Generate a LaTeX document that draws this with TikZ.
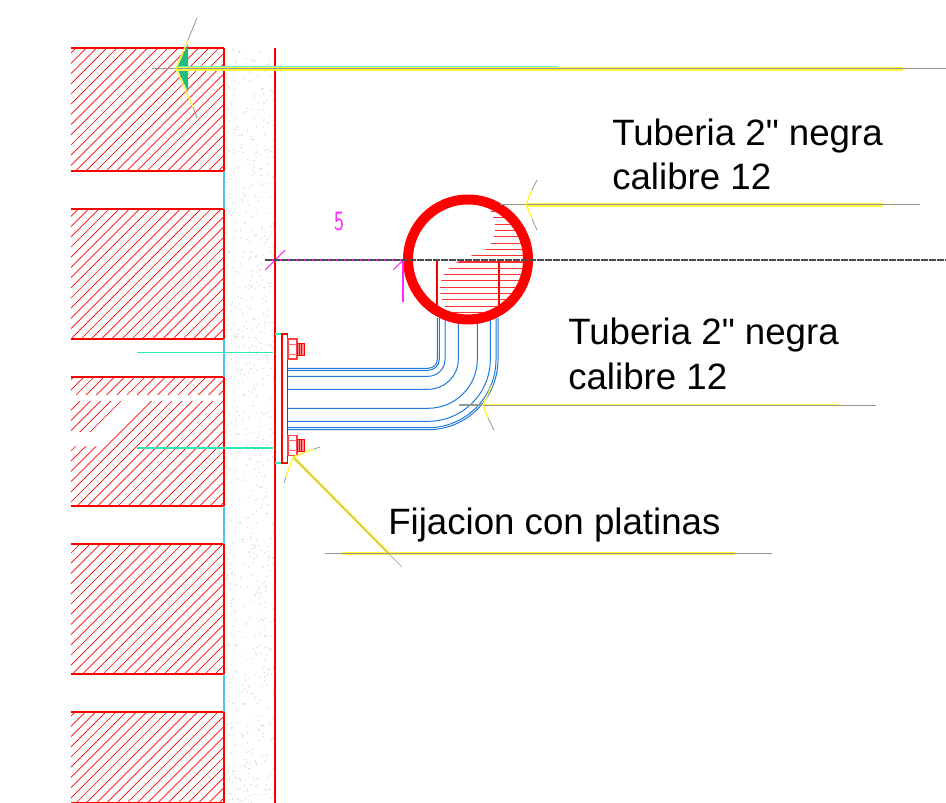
\documentclass[tikz,border=0pt]{standalone}
\usepackage{fontspec}
\newfontfamily\callfont{Liberation Sans}
\definecolor{wallred}{RGB}{255,0,0}
\definecolor{pipeblue}{RGB}{30,120,220}
\definecolor{wallcyan}{RGB}{70,200,240}
\definecolor{lineteal}{RGB}{50,230,180}
\definecolor{leadyellow}{RGB}{255,245,60}
\definecolor{leadgray}{RGB}{150,150,150}
\definecolor{dimmag}{RGB}{255,40,255}
\tikzset{
  wallline/.style={wallred,line width=0.9pt},
  hatchline/.style={wallred,line width=0.5pt},
  pipeline/.style={pipeblue,line width=0.75pt},
  tealline/.style={lineteal,line width=1pt},
  yellowline/.style={leadyellow,line width=2.2pt},
  yellowtop/.style={leadyellow,line width=3pt},
  yellowarm/.style={leadyellow,line width=1pt},
  grayline/.style={leadgray,line width=0.6pt},
  graythin/.style={leadgray,line width=0.4pt},
  magline/.style={dimmag,line width=0.8pt},
  calltext/.style={font=\callfont\fontsize{27.5}{30}\selectfont,anchor=base west,inner sep=0pt,text=black}
}
\begin{document}
\begin{tikzpicture}[x=0.75pt,y=-0.75pt]
    \useasboundingbox (0,0) rectangle (946,803);

    % concrete speckle
    \pgfmathsetseed{42}
    \foreach \i in {1,...,800} {
        \pgfmathsetmacro{\dotx}{226+rnd*48}
        \pgfmathsetmacro{\doty}{48+rnd*755}
        \fill[black!15] (\dotx,\doty) circle (0.8);
    }

    % brick courses
    \begin{scope}
        \clip (71,48) rectangle (224,171) (71,209) rectangle (224,339)
              (71,377) rectangle (224,506) (71,544) rectangle (224,674)
              (71,712) rectangle (224,803);
        \foreach \k in {0,...,95} {
            \draw[hatchline] (-740+10.2*\k,803) -- ++(800,-800);
        }
    \end{scope}
    % gaps in the hatch of the third course
    \fill[white] (71,395) rectangle (224,401);
    \fill[white] (71,432) -- (92,432) -- (123,401) -- (145,401) -- (100,446) -- (71,446) -- cycle;
    \foreach \ya/\yb in {48/171,209/339,377/506,544/674,712/803} {
        \draw[wallline] (71,\ya) -- (224,\ya);
        \draw[wallline] (71,\yb) -- (224,\yb);
        \draw[wallline] (224,\ya) -- (224,\yb);
    }
    \foreach \ya/\yb in {171/209,339/377,506/544,674/712} {
        \draw[wallcyan,line width=0.9pt] (224,\ya) -- (224,\yb);
    }
    \draw[wallline] (275,48) -- (275,803);

    % anchors through the wall
    \draw[tealline] (137,352.5) -- (273,352.5);
    \draw[tealline] (137,448) -- (273,448);
    \draw[tealline] (275,334) -- (282,334);
    \draw[tealline] (275,463) -- (282,463);

    % plate and bolts
    \draw[wallline] (282,334) rectangle (287.5,463);
    \foreach \yb in {349,445.5} {
        \draw[wallred!75,line width=0.8pt] (288,\yb-10) rectangle (297,\yb+10);
        \draw[wallred!60,line width=0.6pt] (288,\yb-5) -- (297,\yb-5);
        \draw[wallred!60,line width=0.6pt] (288,\yb+5) -- (297,\yb+5);
        \fill[wallred!45] (297,\yb-6) rectangle (304,\yb+6);
        \draw[wallred,line width=0.7pt] (297,\yb-6) rectangle (304,\yb+6);
        \draw[wallred,line width=0.5pt] (299,\yb-6) -- (299,\yb+6);
        \draw[wallred,line width=0.5pt] (301,\yb-6) -- (301,\yb+6);
    }

    % pipe with bend
    \foreach \ypipe/\xpipe in {368.3/437.3,370.3/439.3,376.3/445,389.3/458.3,408.3/477.3,421.3/490.3,427.7/496,429.7/498} {
        \draw[pipeline] (288,\ypipe) -- (428,\ypipe)
            .. controls (428+0.5523*\xpipe-0.5523*428,\ypipe) and (\xpipe,359.5+0.5523*\ypipe-0.5523*359.5) .. (\xpipe,359.5)
            -- (\xpipe,318);
    }

    % section of the pipe
    \begin{scope}
        \clip (468,259.5) circle (60);
        \begin{scope}
            \clip (486,200) .. controls (490,212) and (503,228) .. (488,248)
                  .. controls (470,258) and (442,262) .. (440,287)
                  .. controls (439,300) and (448,312) .. (455,325)
                  -- (540,325) -- (540,200) -- cycle;
            \foreach \k in {0,...,20} {
                \draw[wallred!80,line width=0.8pt] (430,199+6.3*\k) -- (540,199+6.3*\k);
            }
        \end{scope}
        \draw[wallred,line width=0.8pt] (437,260) -- (437,308) (499,260) -- (499,308);
    \end{scope}
    \draw[wallred,line width=7.5pt] (468,259.5) circle (60);

    % dimension and centre line
    \draw[magline] (265,260) -- (403,260);
    \draw[magline] (265,270) -- (285,250);
    \draw[magline] (393,270) -- (403,260);
    \draw[magline] (403,260) -- (403,302);
    \node[text=dimmag,font=\sffamily\fontsize{21}{21}\selectfont,inner sep=0pt] (dimtext) at (339,222) {\scalebox{0.75}[1]{5}};
    \draw[black!70,line width=0.8pt,dash pattern=on 5pt off 1pt] (265,260) -- (946,260);

    % top leader
    \fill[lineteal!85!green!80!black] (177,68) -- (188,44) -- (188,92) -- cycle;
    \coordinate (tiptop) at (176,68.5);
    \coordinate (endtop) at (903,68.5);
    \coordinate (endteal) at (558,66.5);
    \draw[yellowtop] (tiptop) -- (endtop);
    \draw[lineteal!70,line width=1.2pt] (176,66.5) -- (endteal);
    \draw[graythin] (152,68.5) -- (946,68.5);
    \draw[yellowarm] (tiptop) -- (188,40);
    \draw[yellowarm] (tiptop) -- (193,107);
    \draw[grayline] (188,40) -- (197,18);
    \draw[grayline] (193,107) -- (197,118);

    % leader to the section
    \coordinate (tipsec) at (526,204.5);
    \coordinate (endsec) at (883,204.5);
    \draw[yellowtop] (tipsec) -- (endsec);
    \draw[graythin] (500,204.5) -- (920,204.5);
    \draw[yellowarm] (tipsec) -- (532,190);
    \draw[yellowarm] (tipsec) -- (532,219);
    \draw[grayline] (532,190) -- (537,180) (532,219) -- (537,230);

    % leader to the bend
    \coordinate (tipbend) at (483,405);
    \coordinate (endbend) at (840,405);
    \draw[grayline,line width=1pt] (459,405) -- (tipbend);
    \draw[yellowline] (tipbend) -- (endbend);
    \draw[graythin] (tipbend) -- (876,405);
    \draw[yellowarm] (tipbend) -- (492,385);
    \draw[yellowarm] (tipbend) -- (488,418);
    \draw[grayline] (488,418) -- (494,430);

    % leader to the plate
    \coordinate (tipplate) at (293,457);
    \coordinate (kneeplate) at (389,553.5);
    \coordinate (endplate) at (735,553.5);
    \draw[yellowline] (tipplate) -- (kneeplate);
    \draw[yellowline] (342,553.5) -- (endplate);
    \draw[graythin] (tipplate) -- (402,567);
    \draw[graythin] (325,553.5) -- (772,553.5);
    \draw[yellowarm] (tipplate) -- (314,449);
    \draw[yellowarm] (tipplate) -- (286,477);
    \draw[grayline] (314,449) -- (320,447) (286,477) -- (284,483);

    % callouts
    \node[calltext] (pipeupa) at (612,145) {Tuberia 2" negra};
    \node[calltext] (pipeupb) at (612,189) {calibre 12};
    \node[calltext] (pipelowa) at (568,344) {Tuberia 2" negra};
    \node[calltext] (pipelowb) at (568,389) {calibre 12};
    \node[calltext] (platetext) at (388,534) {Fijacion con platinas};
\end{tikzpicture}
\end{document}
